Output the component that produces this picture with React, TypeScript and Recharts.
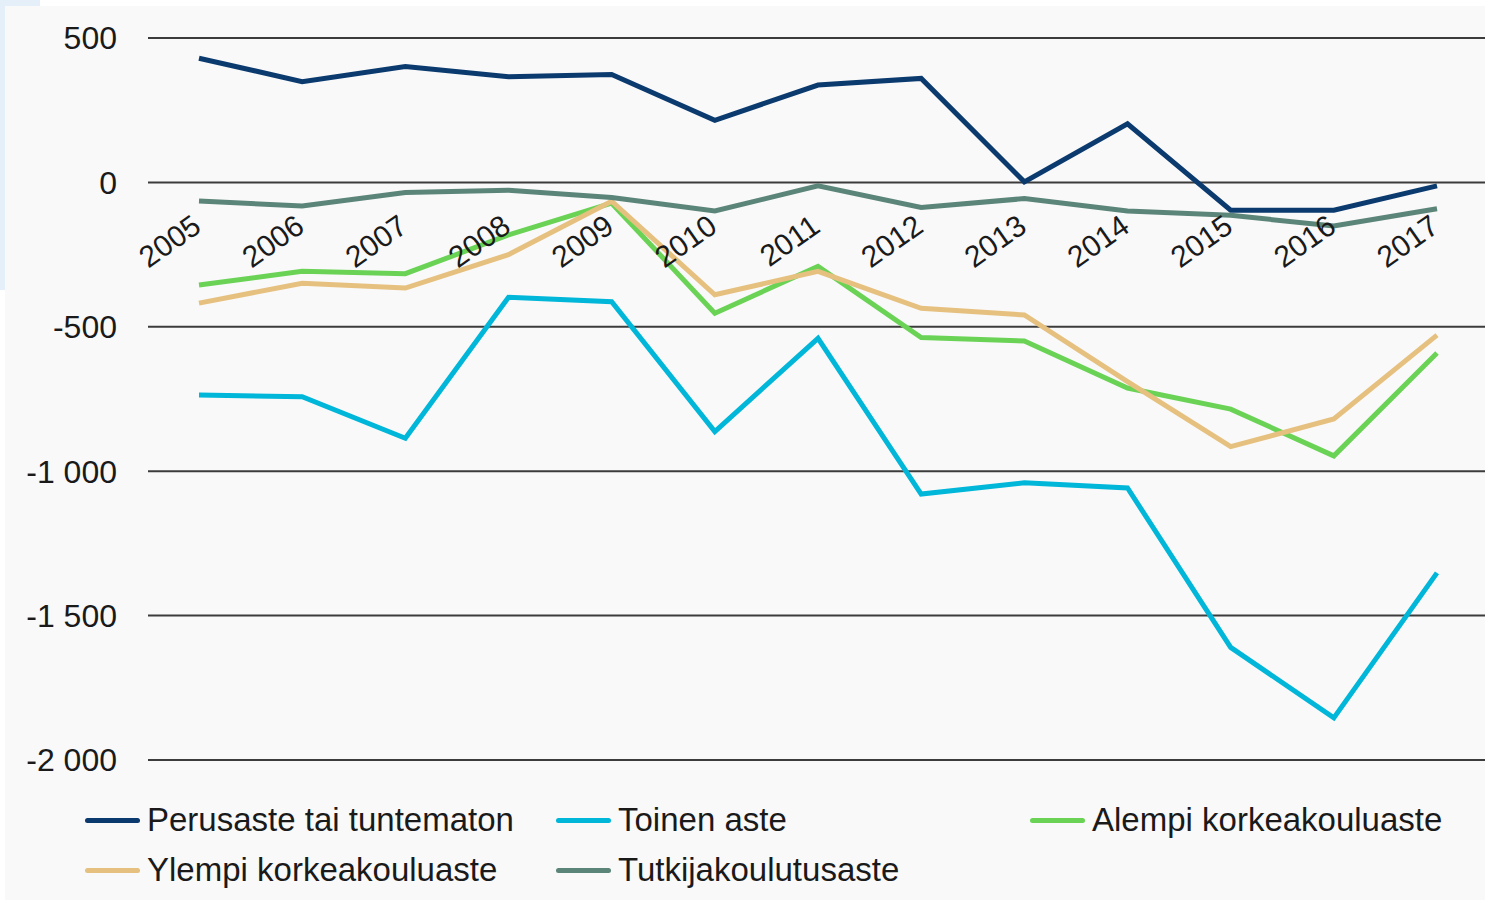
import React from 'react';
import {LineChart, Line, XAxis, YAxis, CartesianGrid, Legend} from 'recharts';

const years = ['2005', '2006', '2007', '2008', '2009', '2010', '2011', '2012', '2013', '2014', '2015', '2016', '2017'];

// nettomuutto koulutusasteittain
const perusaste = [430, 349, 401, 366, 374, 215, 337, 360, 2, 203, -96, -96, -12];
const toinenAste = [-736, -742, -886, -398, -413, -863, -540, -1079, -1040, -1058, -1610, -1854, -1352];
const alempiKk = [-355, -308, -316, -182, -72, -453, -291, -537, -549, -712, -785, -947, -591];
const ylempiKk = [-418, -349, -366, -250, -65, -389, -308, -436, -459, -690, -915, -819, -529];
const tutkija = [-64, -82, -35, -27, -52, -99, -12, -87, -56, -99, -114, -151, -91];

const yTicks = [-2000, -1500, -1000, -500, 0, 500];

const seriesNames = ['Perusaste tai tuntematon', 'Toinen aste', 'Alempi korkeakouluaste', 'Ylempi korkeakouluaste', 'Tutkijakoulutusaste'];
const seriesColors = ['#0b3a6f', '#00b6d9', '#6ad356', '#e6c07f', '#5c8579'];
const seriesValues = [perusaste, toinenAste, alempiKk, ylempiKk, tutkija];

const FONT = '"Liberation Sans", Arial, sans-serif';
const CHART_W = 1480;
const CHART_H = 894;
const TOP = 32;
const X_AXIS_H = 1;
const LEGEND_H = 139;
const PLOT_H = CHART_H - TOP - LEGEND_H - X_AXIS_H;
const Y_MIN = -2000;
const Y_MAX = 500;

const data = years.map((year, i) => {
    let row: any = {year};
    seriesNames.forEach((name, j) => {
        row['s' + j] = seriesValues[j][i];
    });
    return row;
});

const formatNum = (v: number) => {
    const abs = Math.abs(v);
    const s = abs >= 1000 ? Math.floor(abs / 1000) + ' ' + String(abs % 1000).padStart(3, '0') : String(abs);
    return (v < 0 ? '-' : '') + s;
};

// x-akselin nimet piirretään nollaviivan alle
const renderYearTick = (props: any) => {
    const {x, y, payload} = props;
    const zeroY = y - PLOT_H * (0 - Y_MIN) / (Y_MAX - Y_MIN);
    const ax = x + 4;
    const ay = zeroY + 48;
    return (
        <text key={payload.value} x={ax} y={ay} transform={`rotate(-35, ${ax}, ${ay})`} textAnchor="end"
              fontSize={30} fill="#1a1a1a" fontFamily={FONT}>
            {payload.value}
        </text>
    );
};

const renderLegend = () => {
    return (
        <div style={{
            height: LEGEND_H, width: CHART_W, boxSizing: 'border-box', paddingTop: 34, paddingLeft: 80,
            display: 'grid', gridTemplateColumns: '471px 474px auto', gridAutoRows: '50px',
            fontFamily: FONT, fontSize: 33, color: '#1a1a1a',
        }}>
            {seriesNames.map((name, i) => (
                <div key={name} style={{display: 'flex', alignItems: 'center', whiteSpace: 'nowrap'}}>
                    <span style={{
                        display: 'inline-block', width: 55, height: 5, borderRadius: 3,
                        background: seriesColors[i], marginRight: 7,
                    }}/>
                    <span>{name}</span>
                </div>
            ))}
        </div>
    );
};

export default function App() {
    return (
        <div style={{position: 'absolute', left: 0, top: 0, width: 1485, height: 905, background: '#ffffff', overflow: 'hidden'}}>
            <div style={{position: 'absolute', left: 0, top: 0, width: 40, height: 290, background: '#e4eff9'}}/>
            <div style={{position: 'absolute', left: 5, top: 6, width: CHART_W, height: CHART_H, background: '#f9f9f9'}}>
                <LineChart width={CHART_W}
                           height={CHART_H}
                           data={data}
                           margin={{top: TOP, right: 0, left: 0, bottom: 0}}>
                    <CartesianGrid vertical={false} stroke="#3c3c3c" strokeWidth={2}/>
                    <XAxis dataKey="year" height={X_AXIS_H} interval={0} axisLine={false} tickLine={false}
                           tickSize={0} tickMargin={0} padding={{left: 51, right: 48}} tick={renderYearTick}/>
                    <YAxis width={143} domain={[Y_MIN, Y_MAX]} ticks={yTicks} interval={0}
                           axisLine={false} tickLine={false} tickSize={0} tickMargin={31}
                           tickFormatter={formatNum}
                           tick={{fontSize: 32, fill: '#1a1a1a', fontFamily: FONT}}/>
                    <Legend verticalAlign="bottom" content={renderLegend}
                            wrapperStyle={{left: 0, bottom: 0, width: CHART_W, height: LEGEND_H}}/>
                    {seriesNames.map((name, i) => (
                        <Line key={name} type="linear" dataKey={'s' + i} name={name} stroke={seriesColors[i]}
                              strokeWidth={5} dot={false} activeDot={false} isAnimationActive={false}/>
                    ))}
                </LineChart>
            </div>
        </div>
    );
}
